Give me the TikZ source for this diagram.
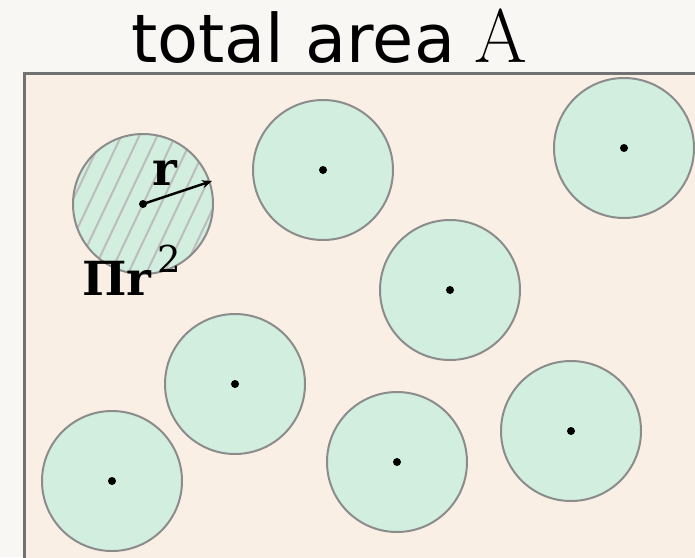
\documentclass[tikz,border=0pt]{standalone}
\usepackage{fontspec}
\newfontfamily\titlefont{DejaVu Sans}
\newfontfamily\labelfont{DejaVu Serif}
\usetikzlibrary{arrows.meta}
\definecolor{outerbg}{HTML}{F8F7F4}
\definecolor{innerbg}{HTML}{FAEFE4}
\definecolor{discfill}{HTML}{D1EEDF}
\definecolor{discline}{HTML}{8C8C8C}
\definecolor{framecol}{HTML}{727272}
\definecolor{hatchcol}{HTML}{BDBDBD}
\tikzset{
  disc/.style={circle, draw=discline, line width=2pt, fill=discfill, minimum size=140pt, inner sep=0pt},
  hatched/.style={path picture={
    \foreach \k in {-7,...,7}{
      \draw[hatchcol, line width=2pt]
        ([xshift=\k*18pt-45pt, yshift=-95pt]path picture bounding box.center) --
        ([xshift=\k*18pt+45pt, yshift=95pt]path picture bounding box.center);
    }}},
  centerdot/.style={fill=black},
  lbl/.style={inner sep=0pt, font=\labelfont\bfseries\fontsize{47}{52}\selectfont}
}
\begin{document}
\begin{tikzpicture}[x=1pt, y=-1pt]
  \useasboundingbox (0,0) rectangle (695,557);
  \fill[outerbg] (0,0) rectangle (695,557);
  \fill[innerbg] (24.5,73) rectangle (700,562);
  \draw[framecol, line width=3pt] (24.5,562) -- (24.5,73) -- (700,73);
  \node[inner sep=0pt, anchor=base west, font=\titlefont\fontsize{67}{72}\selectfont] (title) at (131,62) {total area\hspace{19pt}{\rmfamily\fontsize{76}{80}\selectfont A}};

  \node[disc, hatched] (c1) at (143,204) {};
  \node[disc] (c2) at (323,170) {};
  \node[disc] (c3) at (624,148) {};
  \node[disc] (c4) at (450,290) {};
  \node[disc] (c5) at (235,384) {};
  \node[disc] (c6) at (112,481) {};
  \node[disc] (c7) at (397,462) {};
  \node[disc] (c8) at (571,431) {};
  \foreach \c in {c1,c2,c3,c4,c5,c6,c7,c8}{
    \fill[centerdot] (\c.center) circle (4pt);
  }
  \coordinate (rtip) at (212,181);
  \draw[line width=2.5pt, -{Stealth[length=10pt, width=8pt]}] (c1.center) -- (rtip);
  \node[lbl, anchor=base] (rlabel) at (165,185) {r};
  \node[lbl, anchor=base west] (area) at (82,295) {Πr\hspace{6pt}\raisebox{23pt}{\mdseries\fontsize{37}{40}\selectfont 2}};
\end{tikzpicture}
\end{document}
